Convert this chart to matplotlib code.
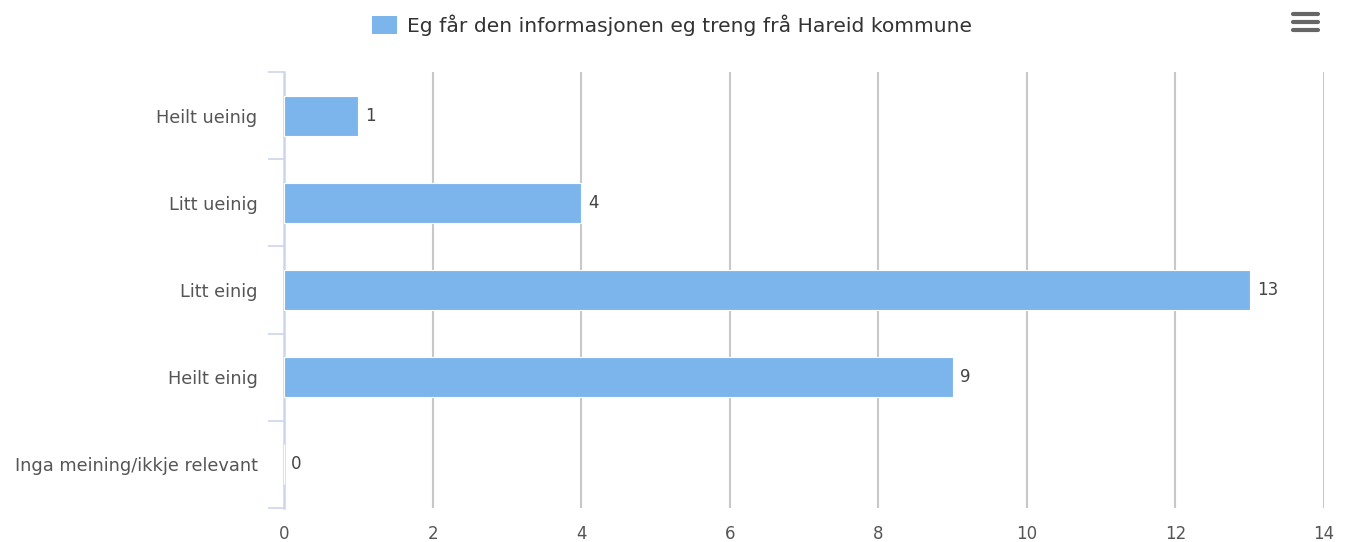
import matplotlib.pyplot as plt
from matplotlib.patches import Patch
from matplotlib.lines import Line2D

categories = ["Heilt ueinig", "Litt ueinig", "Litt einig", "Heilt einig", "Inga meining/ikkje relevant"]
values = [1, 4, 13, 9, 0]
series_name = "Eg får den informasjonen eg treng frå Hareid kommune"
x_ticks = [0, 2, 4, 6, 8, 10, 12, 14]

bar_color = "#7cb5ec"
plt.rcParams['font.family'] = ['DejaVu Sans']

W, H = 1352, 542
fig = plt.figure(figsize=(W / 100, H / 100), dpi=100)
ax = fig.add_axes([284 / W, 1 - 508 / H, (1324 - 284) / W, (508 - 72) / H])

pos = list(range(len(categories)))
ax.barh(pos, values, height=0.46, color=bar_color, edgecolor="white", linewidth=0.8, zorder=3)
for p, v in zip(pos, values):
    ax.annotate(str(v), (v, p), xytext=(5, 0), textcoords="offset points",
                va="center", ha="left", fontsize=12, color="#444444")

ax.set_xlim(0, 14)
ax.set_ylim(len(categories) - 0.5, -0.5)
ax.set_xticks(x_ticks)
ax.set_xticklabels([str(t) for t in x_ticks])
ax.set_yticks(pos)
ax.set_yticklabels(categories)
ax.set_yticks([p - 0.5 for p in pos] + [len(pos) - 0.5], minor=True)

ax.grid(axis="x", color="#c8c8c8", linewidth=1.5, zorder=0)
for side in ["top", "right", "bottom"]:
    ax.spines[side].set_visible(False)
ax.spines["left"].set_color("#ccd6eb")
ax.spines["left"].set_linewidth(1.8)
ax.tick_params(axis="y", which="major", length=0, pad=19, labelsize=12.8, labelcolor="#555555")
ax.tick_params(axis="y", which="minor", length=11.5, width=1.2, color="#ccd6eb")
ax.tick_params(axis="x", length=0, pad=12.5, labelsize=12, labelcolor="#555555")

handle = Patch(facecolor=bar_color, edgecolor="none")
fig.legend([handle], [series_name], loc="center", bbox_to_anchor=(0.497, 1 - 25 / H),
           frameon=False, fontsize=14.6, labelcolor="#333333",
           handlelength=1.25, handleheight=1.0, handletextpad=0.5)

# menu icon
for yy in [14, 22, 30]:
    fig.add_artist(Line2D([1293 / W, 1318 / W], [1 - yy / H, 1 - yy / H], color="#666666",
                          linewidth=3.0, solid_capstyle="round"))

fig.savefig("out.png", dpi=100)
